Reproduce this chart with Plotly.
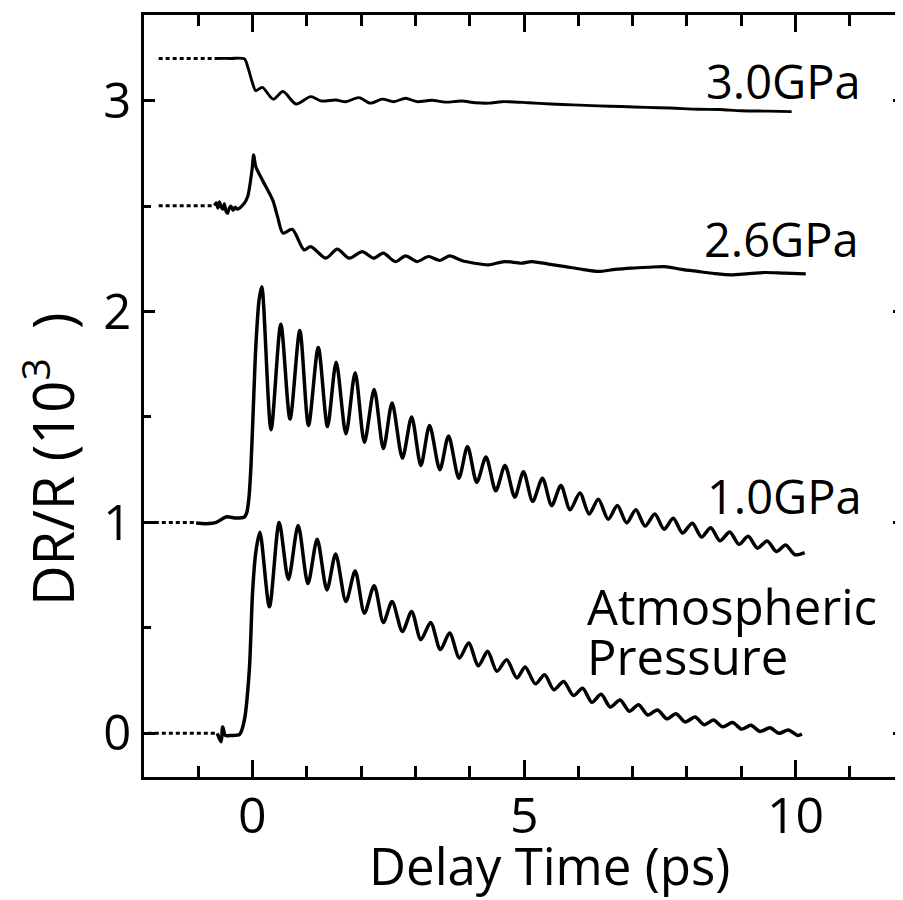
import plotly.graph_objects as go

# delay time (ps) / DR/R (10^3)
atm_x = [-0.65, -0.58, -0.55, -0.5, -0.4, -0.24, -0.15, -0.06, 0.0, 0.06, 0.135,
         0.31, 0.49, 0.66, 0.84, 1.02, 1.19, 1.37, 1.53, 1.72, 1.89,
         2.06, 2.24, 2.41, 2.57, 2.76, 2.93, 3.10, 3.28, 3.46, 3.63,
         3.81, 3.98, 4.16, 4.33, 4.50, 4.68, 4.87, 5.02, 5.21, 5.38,
         5.55, 5.73, 5.91, 6.08, 6.25, 6.42, 6.59, 6.77, 6.94, 7.11,
         7.28, 7.46, 7.63, 7.80, 7.97, 8.15, 8.32, 8.49, 8.66, 8.84,
         9.01, 9.18, 9.35, 9.53, 9.70, 9.87, 10.04, 10.12]
atm_y = [0.0, -0.04, 0.03, -0.01, -0.01, -0.005, 0.065, 0.30, 0.67, 0.86, 0.953,
         0.60, 1.0, 0.73, 0.985, 0.71, 0.92, 0.68, 0.85, 0.625, 0.77,
         0.57, 0.70, 0.526, 0.625, 0.483, 0.578, 0.444, 0.526, 0.397, 0.476,
         0.357, 0.428, 0.32, 0.389, 0.294, 0.349, 0.262, 0.315, 0.235, 0.278,
         0.207, 0.246, 0.179, 0.214, 0.147, 0.185, 0.125, 0.158, 0.105, 0.136,
         0.087, 0.111, 0.069, 0.093, 0.054, 0.077, 0.041, 0.063, 0.031, 0.051,
         0.020, 0.038, 0.009, 0.026, 0.0, 0.016, -0.01, -0.003]

gpa10_x = [-1.04, -0.86, -0.67, -0.49, -0.30, -0.15, -0.11, -0.07, -0.03, 0.01, 0.06, 0.12, 0.17,
           0.34, 0.52, 0.69, 0.87, 1.03, 1.21, 1.38, 1.54, 1.72, 1.89,
           2.06, 2.24, 2.41, 2.57, 2.76, 2.93, 3.10, 3.26, 3.45, 3.61,
           3.80, 3.96, 4.13, 4.30, 4.48, 4.65, 4.83, 4.99, 5.16, 5.34,
           5.51, 5.68, 5.85, 6.03, 6.20, 6.37, 6.55, 6.72, 6.89, 7.06,
           7.23, 7.41, 7.58, 7.75, 7.92, 8.10, 8.27, 8.44, 8.61, 8.79,
           8.96, 9.13, 9.30, 9.48, 9.65, 9.82, 9.99, 10.17]
gpa10_y = [0.997, 0.994, 1.0, 1.026, 1.021, 1.026, 1.044, 1.108, 1.265, 1.518, 1.834, 2.055, 2.118,
           1.44, 1.94, 1.49, 1.91, 1.46, 1.83, 1.455, 1.76, 1.42, 1.71,
           1.38, 1.63, 1.35, 1.566, 1.305, 1.50, 1.27, 1.46, 1.25, 1.41,
           1.21, 1.36, 1.19, 1.31, 1.15, 1.27, 1.12, 1.24, 1.10, 1.21,
           1.08, 1.175, 1.06, 1.14, 1.04, 1.11, 1.015, 1.08, 0.998, 1.06,
           0.983, 1.04, 0.968, 1.02, 0.95, 0.996, 0.931, 0.975, 0.913, 0.955,
           0.896, 0.934, 0.878, 0.912, 0.862, 0.893, 0.847, 0.857]

gpa26_x = [-0.70, -0.67, -0.64, -0.61, -0.58, -0.55, -0.52, -0.49, -0.46, -0.43, -0.40,
           -0.36, -0.32, -0.28, -0.24, -0.20, -0.15, -0.09, -0.01, 0.02, 0.06,
           0.18, 0.37, 0.46, 0.56, 0.73, 0.95, 1.07, 1.35, 1.56, 1.78,
           2.02, 2.23, 2.41, 2.63, 2.82, 3.03, 3.24, 3.45, 3.63, 3.85,
           4.09, 4.34, 4.64, 4.95, 5.14, 5.45, 5.76, 6.07, 6.37, 6.68,
           6.98, 7.29, 7.59, 7.90, 8.20, 8.51, 8.82, 9.13, 9.43, 9.80, 10.19]
gpa26_y = [2.502, 2.515, 2.49, 2.52, 2.495, 2.485, 2.51, 2.475, 2.465, 2.49, 2.50,
           2.48, 2.495, 2.485, 2.49, 2.50, 2.514, 2.545, 2.672, 2.743, 2.687,
           2.624, 2.529, 2.45, 2.372, 2.39, 2.292, 2.308, 2.253, 2.296, 2.253,
           2.284, 2.253, 2.277, 2.237, 2.264, 2.237, 2.261, 2.242, 2.264, 2.242,
           2.229, 2.221, 2.237, 2.229, 2.237, 2.225, 2.213, 2.20, 2.19, 2.20,
           2.206, 2.21, 2.213, 2.20, 2.19, 2.18, 2.174, 2.18, 2.185, 2.182, 2.179]

gpa30_x = [-0.70, -0.40, -0.15, -0.09, 0.0, 0.06, 0.18, 0.38, 0.56, 0.80,
           1.07, 1.27, 1.53, 1.72, 1.96, 2.17, 2.39, 2.60, 2.82, 3.03,
           3.30, 3.55, 3.85, 4.10, 4.35, 4.60, 5.08, 5.50, 5.90, 6.37,
           6.80, 7.25, 7.70, 8.20, 8.60, 9.00, 9.50, 9.93]
gpa30_y = [3.20, 3.20, 3.198, 3.161, 3.082, 3.047, 3.063, 3.007, 3.043, 2.984,
           3.019, 2.998, 3.003, 2.995, 3.014, 2.988, 3.007, 2.995, 3.011, 2.995,
           3.002, 2.993, 2.998, 2.99, 2.988, 2.995, 2.99, 2.984, 2.98, 2.975,
           2.972, 2.968, 2.965, 2.959, 2.958, 2.952, 2.95, 2.948]

# dotted pre-zero baselines: (start, end, level)
baselines = [(-1.93, -0.65, 0.0), (-1.93, -1.04, 1.0), (-1.73, -0.70, 2.502), (-1.73, -0.70, 3.20)]

labels = ["3.0GPa", "2.6GPa", "1.0GPa", "Atmospheric", "Pressure"]
label_x = [8.31, 8.28, 8.33, 6.13, 6.13]
label_y = [3.095, 2.345, 1.125, 0.606, 0.366]
label_size = [47, 47, 47, 49, 49]

xtick_vals = [0, 5, 10]
xtick_text = ["0", "5", "10"]

FONT = "Open Sans"

fig = go.Figure()

for x0, x1, lvl in baselines:
    fig.add_trace(go.Scatter(x=[x0, x1], y=[lvl, lvl], mode="lines",
                             line=dict(color="black", width=3, dash="4px,3px"),
                             showlegend=False, hoverinfo="skip"))

for xs, ys, w in [(atm_x, atm_y, 3.5), (gpa10_x, gpa10_y, 3.5), (gpa26_x, gpa26_y, 3.2), (gpa30_x, gpa30_y, 2.9)]:
    fig.add_trace(go.Scatter(x=xs, y=ys, mode="lines",
                             line=dict(color="black", width=w, shape="spline", smoothing=0.8),
                             showlegend=False))

for txt, lx, ly, sz in zip(labels, label_x, label_y, label_size):
    fig.add_annotation(x=lx, y=ly, text=txt, showarrow=False, xanchor="left", yanchor="middle",
                       font=dict(family=FONT, size=sz, color="black"))

# x tick labels sit closer to the axis than plotly puts them, so place them by hand
for v, t in zip(xtick_vals, xtick_text):
    fig.add_annotation(x=v, xref="x", yref="paper", y=-0.049, text=t, showarrow=False,
                       xanchor="center", yanchor="middle",
                       font=dict(family=FONT, size=50, color="black"))

# axis titles as annotations so they can sit where the original has them
fig.add_annotation(xref="paper", yref="paper", x=0.533, y=-0.1155, text="Delay Time (ps)",
                   showarrow=False, xanchor="center", yanchor="middle",
                   font=dict(family=FONT, size=51, color="black"))
fig.add_annotation(xref="paper", yref="paper", x=-0.125, y=0.416, text="DR/R (10<sup>3</sup>&nbsp;&nbsp;)",
                   textangle=-90, showarrow=False, xanchor="center", yanchor="middle",
                   font=dict(family=FONT, size=56, color="black"))

fig.update_xaxes(range=[-2, 12], tickvals=xtick_vals, showticklabels=False,
                 ticks="inside", ticklen=17, tickwidth=3,
                 tickcolor="black", showline=True, linewidth=3, linecolor="black", mirror="ticks",
                 showgrid=False, zeroline=False,
                 minor=dict(tickvals=[-1, 1, 2, 3, 4, 6, 7, 8, 9, 11], ticks="inside",
                            ticklen=11, tickwidth=3, tickcolor="black"))
fig.update_yaxes(range=[-0.207, 3.406], tickvals=[0, 1, 2, 3], ticks="inside", ticklen=11, tickwidth=3,
                 tickcolor="black", showline=True, linewidth=3, linecolor="black", mirror="ticks",
                 showgrid=False, zeroline=False,
                 minor=dict(tickvals=[0.5, 1.5, 2.5], ticks="inside",
                            ticklen=7, tickwidth=3, tickcolor="black"),
                 tickfont=dict(family=FONT, size=49, color="black"))

# the page body adds an 8px margin; the right frame edge sits just past the window like the original
fig.update_layout(width=900, height=892, margin=dict(l=136, r=1, t=7, b=123),
                  paper_bgcolor="white", plot_bgcolor="white", showlegend=False,
                  font=dict(family=FONT, color="black"))

fig.write_html("out.html")
